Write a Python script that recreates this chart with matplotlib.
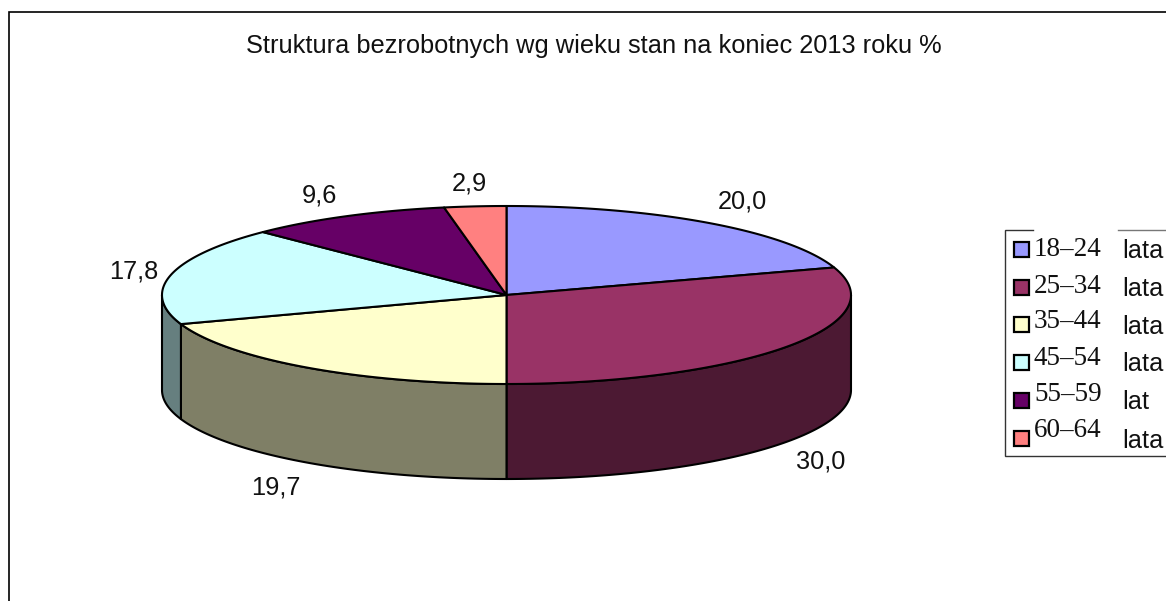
import numpy as np
import matplotlib
matplotlib.use('Agg')
import matplotlib.pyplot as plt

# chart data
ranges = ['18–24', '25–34', '35–44', '45–54', '55–59', '60–64']
units = ['lata', 'lata', 'lata', 'lata', 'lat', 'lata']
values = [20.0, 30.0, 19.7, 17.8, 9.6, 2.9]
title = 'Struktura bezrobotnych wg wieku stan na koniec 2013 roku %'

# colours, top of the slice and its darker side
top_colors = ['#9999FF', '#993366', '#FFFFCC', '#CCFFFF', '#660066', '#FF8080']
side_colors = ['#4C4C7F', '#4C1933', '#7F7F66', '#667F7F', '#330033', '#7F4040']

# layout in pixels
cx, cy = 506.5, 295
rx, ry = 344.5, 89
depth = 95
label_pos = [(742, 201), (821, 461), (275.5, 488), (134, 271), (319, 195), (469, 183)]

plt.rcParams['font.family'] = ['Liberation Sans', 'DejaVu Sans']

fig = plt.figure(figsize=(11.66, 6.01), dpi=100)
ax = fig.add_axes([0, 0, 1, 1])
ax.set_xlim(0, 1166)
ax.set_ylim(601, 0)
ax.axis('off')


def rim(a0, a1):
    # points on the ellipse, angle in degrees clockwise from the top
    t = np.radians(np.linspace(a0, a1, 120))
    return cx + rx * np.sin(t), cy - ry * np.cos(t)


# outer frame, runs off the page on the right and bottom
ax.plot([9, 9, 1166], [601, 11.5, 11.5], color='black', lw=1.2, solid_joinstyle='miter')

ax.text(594, 53.5, title, ha='center', va='baseline', fontsize=18.3, color='#111111')

edges = np.concatenate([[0], np.cumsum(values)]) / sum(values) * 360

# side walls first, only the front half shows
for i in range(len(values)):
    a0 = max(edges[i], 90)
    a1 = min(edges[i + 1], 270)
    if a1 <= a0:
        continue
    x, y = rim(a0, a1)
    ax.fill(np.r_[x, x[::-1]], np.r_[y, y[::-1] + depth], facecolor=side_colors[i],
            edgecolor='black', lw=1.5, joinstyle='round')

# slices on top
for i in range(len(values)):
    x, y = rim(edges[i], edges[i + 1])
    ax.fill(np.r_[cx, x], np.r_[cy, y], facecolor=top_colors[i],
            edgecolor='black', lw=1.5, joinstyle='round')

for v, (lx, ly) in zip(values, label_pos):
    ax.text(lx, ly, f'{v:.1f}'.replace('.', ','), ha='center', va='center',
            fontsize=18.3, color='#111111')

# legend box, top edge is broken above the ranges
ax.plot([1033, 1005, 1005, 1166], [229.5, 229.5, 456, 456], color='#333333', lw=1.0,
        solid_joinstyle='miter')
ax.plot([1118, 1166], [229.5, 229.5], color='#777777', lw=1.0)

swatch_y = [249, 287, 324, 362, 400, 438]
range_y = [256, 293, 328, 365, 401, 437]
unit_y = [258, 296, 334, 371, 409, 448]
for i in range(len(ranges)):
    ax.add_patch(plt.Rectangle((1014, swatch_y[i] - 7.5), 15, 15, facecolor=top_colors[i],
                               edgecolor='black', lw=1.6))
    ax.text(1034, range_y[i], ranges[i], family='Liberation Serif', fontsize=19.5,
            ha='left', va='baseline', color='#111111')
    ax.text(1122, unit_y[i], units[i], fontsize=18.3, ha='left', va='baseline', color='#111111')

fig.savefig('out.png', dpi=100)
